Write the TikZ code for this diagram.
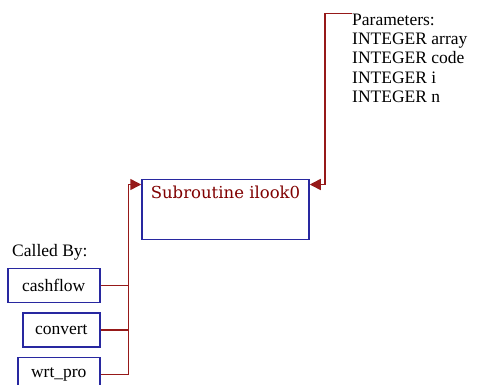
\documentclass[tikz,border=0pt]{standalone}
\usepackage{fontspec}
\setmainfont{Liberation Serif}
\newfontfamily\slabfont{DejaVu Serif}
\usetikzlibrary{arrows.meta, positioning}
\definecolor{boxblue}{RGB}{40,40,160}
\definecolor{linkred}{RGB}{150,25,25}
\definecolor{namered}{RGB}{128,0,0}

\begin{document}
\begin{tikzpicture}[
    x=1pt, y=-1pt,
    font=\fontsize{17.5}{19.3}\selectfont,
    func/.style={rectangle, draw=boxblue, line width=1.5pt, minimum width=167pt, minimum height=60pt, inner sep=0pt},
    caller/.style={rectangle, draw=boxblue, line width=1.5pt, minimum height=34pt, inner sep=0pt, anchor=north east},
    plain/.style={inner sep=0pt, align=left},
    link/.style={draw=linkred, line width=1.5pt},
    arrow/.style={link, -{Triangle[length=11pt, width=11pt]}}
]
\useasboundingbox (0,0) rectangle (498,384);

% Nodes
\node[func] (ilook) at (225.5,209.5) {};
\node[inner sep=0pt, anchor=north, text=namered, font=\slabfont\fontsize{16.5}{18}\selectfont] (ilookname) at ([yshift=-7pt]ilook.north) {Subroutine ilook0};

\node[plain, anchor=north west] (params) at (352,13.5) {Parameters:\\INTEGER array\\INTEGER code\\INTEGER i\\INTEGER n};

\node[plain, anchor=base west] (calledby) at (12,256) {Called By:};
\node[caller, minimum width=92pt] (cashflow) at (100.5,267.5) {cashflow};
\node[caller, minimum width=77pt, below left=9pt and 0pt of cashflow.south east] (convert) {convert};
\node[caller, minimum width=82pt, below left=9pt and 0pt of convert.south east] (wrtpro) {wrt\_pro};

\coordinate (bus) at (128.5,184.5);

% Arrows
\draw[link] (cashflow.east) -- (bus |- cashflow.east);
\draw[link] (convert.east) -- (bus |- convert.east);
\draw[arrow] (wrtpro.east) -| (bus) -- (ilook.west |- bus);
\draw[arrow] (params.north west) -- ++(-27pt,0) |- (ilook.east |- bus);

\end{tikzpicture}
\end{document}
